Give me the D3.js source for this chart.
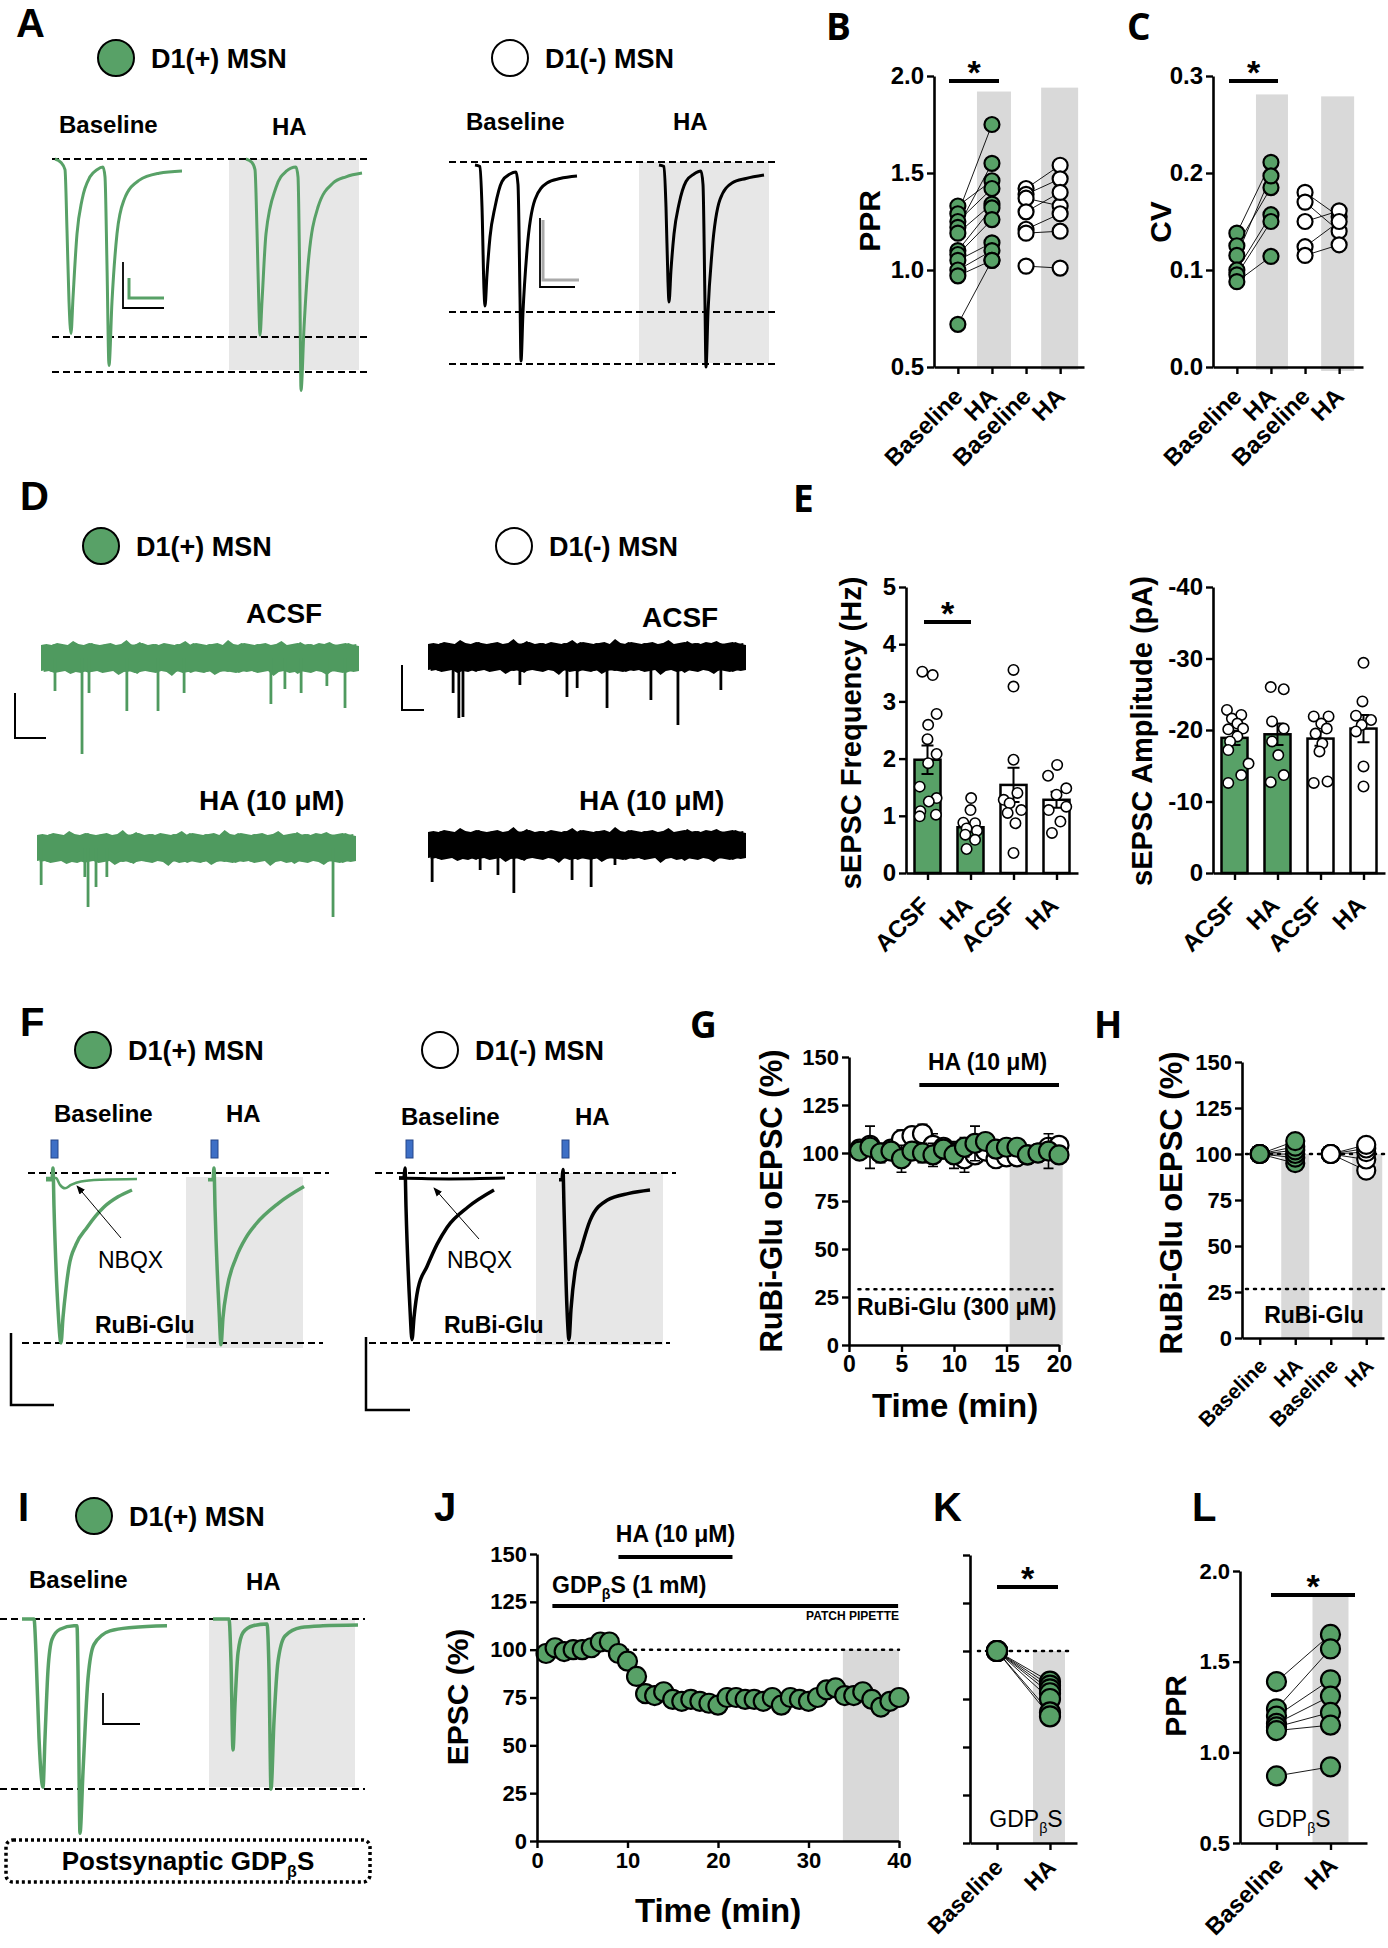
<!DOCTYPE html>
<html>
<head>
<meta charset="utf-8">
<script src="https://cdn.jsdelivr.net/npm/d3@7"></script>
<style>body{margin:0;background:#fff}</style>
</head>
<body>
<script>
// ---------------- data ----------------
// A: paired-pulse traces, [time (ms), current normalised to the first dashed line]
const aD1Base = [[0,0],[6,-0.02],[10,-0.06],[12,-0.4],[14,-0.8],[16,-0.98],[18,-0.78],[22,-0.42],[27,-0.23],[35,-0.1],[42,-0.06],[48,-0.045],[50,-0.1],[52,-0.6],[54,-1.16],[57,-0.8],[62,-0.42],[69,-0.23],[84,-0.12],[104,-0.08],[127,-0.067]];
const aD1HA = [[0,0],[6,-0.02],[9,-0.06],[11,-0.4],[13,-0.85],[14,-0.99],[16,-0.8],[20,-0.42],[30,-0.16],[40,-0.07],[50,-0.045],[52,-0.1],[54,-0.8],[55,-1.3],[58,-0.95],[62,-0.6],[72,-0.27],[87,-0.135],[100,-0.1],[116,-0.079]];
const aD1mBase = [[0,-0.02],[5,-0.03],[7,-0.3],[9,-0.85],[10,-0.96],[12,-0.75],[15,-0.5],[20,-0.3],[27,-0.13],[35,-0.08],[41,-0.067],[43,-0.15],[45,-0.9],[46,-1.327],[48,-1.0],[52,-0.59],[60,-0.25],[72,-0.14],[85,-0.11],[102,-0.093]];
const aD1mHA = [[0,-0.02],[5,-0.03],[7,-0.3],[9,-0.8],[10,-0.933],[12,-0.72],[15,-0.48],[20,-0.28],[27,-0.13],[35,-0.08],[42,-0.06],[44,-0.15],[46,-0.95],[47,-1.367],[49,-1.0],[53,-0.6],[61,-0.25],[73,-0.14],[87,-0.11],[105,-0.087]];

// B: PPR, paired cells
const pprD1Base = [1.33, 1.29, 1.25, 1.22, 1.19, 1.10, 1.08, 1.05, 1.00, 0.97, 0.72];
const pprD1HA = [1.46, 1.75, 1.42, 1.55, 1.34, 1.32, 1.26, 1.14, 1.10, 1.05, 1.05];
const pprD1mBase = [1.42, 1.39, 1.37, 1.30, 1.21, 1.19, 1.02];
const pprD1mHA = [1.54, 1.47, 1.33, 1.40, 1.29, 1.20, 1.01];

// C: CV, paired cells
const cvD1Base = [0.138, 0.125, 0.115, 0.100, 0.095, 0.088];
const cvD1HA = [0.211, 0.185, 0.197, 0.157, 0.150, 0.114];
const cvD1mBase = [0.180, 0.170, 0.150, 0.124, 0.115];
const cvD1mHA = [0.155, 0.140, 0.161, 0.150, 0.126];
const pairCats = ["Baseline", "HA", "Baseline", "HA"];

// D: sEPSC traces, background noise envelope and events [time (s), depth]
const noiseTop = [13,14,13,15,14,13,17,14,13,15,14,13,14,15,13,14,18,13,14,15,13,14,13,15,14,13,14,17,13,15,14,13,14,15,13,18,14,13,15,14,13,14,15,13,14,17,13,14,15,13,14,13,15,14,16,13,14,15,13,14];
const noiseBot = [13,12,14,13,12,13,14,12,13,15,12,13,14,12,13,12,14,13,16,12,13,14,12,13,12,14,13,12,15,13,12,14,13,12,13,14,12,15,13,12,14,13,12,13,14,12,13,12,16,13,14,12,13,12,14,13,12,15,13,12];
const evD1Acsf = [[0.44,33],[1.29,96],[1.51,35],[2.70,53],[3.68,53],[4.50,35],[7.23,46],[7.67,31],[8.18,35],[8.99,28],[9.56,50]];
const evD1mAcsf = [[0.79,36],[0.97,61],[1.10,60],[2.89,28],[4.37,40],[4.69,31],[5.63,51],[7.01,43],[7.86,68],[9.21,33]];
const evD1HA = [[0.13,37],[1.50,29],[1.60,59],[1.85,39],[2.19,29],[9.28,69]];
const evD1mHA = [[0.13,37],[1.64,25],[2.20,30],[2.70,48],[4.53,35],[5.13,42],[5.88,20]];

// E: sEPSC frequency / amplitude, [value, horizontal jitter]
const eCats = ["ACSF", "HA", "ACSF", "HA"];
const freqMean = [1.98, 0.80, 1.54, 1.28];
const freqSem = [0.25, 0.08, 0.30, 0.14];
const freqD1Acsf = [[3.52,-0.4],[3.46,0.4],[2.78,0.7],[2.59,0.05],[2.34,0],[2.08,0.7],[1.92,0.05],[1.51,-0.6],[1.31,0.7],[1.25,0.1],[1.08,-0.55],[1.02,0.65],[0.99,-0.6]];
const freqD1HA = [[1.31,0.05],[1.10,0],[0.88,-0.55],[0.87,0.35],[0.78,-0.3],[0.74,0.5],[0.67,-0.4],[0.58,0.35],[0.42,-0.3]];
const freqD1mAcsf = [[3.55,0],[3.26,0],[1.98,0],[1.40,0.3],[1.28,-0.75],[1.22,-0.3],[1.10,0.6],[1.05,-0.45],[0.87,0.15],[0.35,0]];
const freqD1mHA = [[1.89,0.05],[1.70,-0.65],[1.48,0.75],[1.37,0],[1.16,0.75],[1.10,-0.6],[0.90,0.3],[0.70,-0.35]];
const ampMean = [-18.9, -19.4, -18.8, -20.2];
const ampSem = [1.0, 1.5, 1.0, 1.9];
const ampD1Acsf = [[-22.8,-0.58],[-22.1,0.52],[-21.6,-0.2],[-20.9,0.22],[-20.1,-0.48],[-20.2,0.66],[-19.1,0.22],[-18.4,-0.34],[-17.2,-0.48],[-15.3,1.08],[-13.7,0.52],[-12.6,-0.48]];
const ampD1HA = [[-26.0,-0.52],[-25.7,0.48],[-21.2,-0.42],[-20.2,0.48],[-18.4,-0.42],[-16.5,0.06],[-13.7,0.48],[-12.7,-0.52]];
const ampD1mAcsf = [[-21.9,-0.52],[-21.9,0.62],[-20.9,0.06],[-20.2,0.48],[-19.5,-0.38],[-18.1,0.14],[-17.0,-0.08],[-12.6,-0.52],[-12.8,0.54]];
const ampD1mHA = [[-29.4,0],[-24.0,-0.08],[-22.0,-0.58],[-21.4,0.58],[-20.7,-0.14],[-19.8,-0.58],[-14.9,0],[-12.1,0]];

// F: RuBi-Glu uncaging traces
const fD1Base = [[0,-0.04],[6,-0.04],[7,0.03],[8,-0.2],[12,-0.8],[15,-1.0],[17,-0.85],[20,-0.68],[23,-0.55],[30,-0.42],[41,-0.32],[58,-0.2],[72,-0.14],[86,-0.1]];
const fD1Nbqx = [[0,-0.03],[10,-0.03],[14,-0.07],[19,-0.09],[25,-0.07],[35,-0.05],[55,-0.04],[91,-0.035]];
const fD1HA = [[0,-0.04],[5,-0.04],[6,0.03],[7,-0.2],[11,-0.8],[13,-1.01],[15,-0.85],[19,-0.68],[28,-0.5],[38,-0.38],[48,-0.3],[70,-0.18],[96,-0.08]];
const fD1mBase = [[0,-0.03],[5,-0.03],[6,0.03],[7,-0.2],[11,-0.8],[13,-0.98],[15,-0.85],[19,-0.68],[28,-0.55],[38,-0.42],[48,-0.32],[69,-0.2],[95,-0.1]];
const fD1mNbqx = [[0,-0.03],[50,-0.035],[106,-0.03]];
const fD1mHA = [[0,-0.04],[3,-0.04],[4,0.02],[5,-0.2],[8,-0.8],[10,-0.98],[12,-0.8],[16,-0.58],[22,-0.45],[31,-0.28],[48,-0.16],[70,-0.12],[91,-0.1]];

// G: RuBi-Glu oEPSC time course
const gTime = [1,2,3,4,5,6,7,8,9,10,11,12,13,14,15,16,17,18,19,20];
const gD1 = [101,103,100,101,97,101,100,99,102,99,103,105,106,102,103,103,99,100,101,99];
const gD1Sem = [4,11,5,4,7,4,5,6,5,7,5,9,4,3,3,3,4,4,9,4];
const gD1m = [102,104,100,102,107,109,110,104,103,100,97,99,101,97,98,98,99,100,103,104];
const gD1mSem = [3,4,4,3,5,4,5,6,4,5,7,4,3,3,3,3,4,3,4,3];

// H: RuBi-Glu oEPSC, paired cells
const hD1Base = [100,100,100,100,100,100];
const hD1HA = [95,98,100,102,104,107];
const hD1mBase = [100,100,100,100,100];
const hD1mHA = [91,97,101,103,105];

// I: paired-pulse traces with GDPbS
const iBase = [[0,0],[12,0],[14,-0.2],[17,-0.7],[21,-0.99],[23,-0.7],[26,-0.3],[30,-0.12],[38,-0.06],[52,-0.04],[55,-0.04],[56,-0.3],[58,-1.26],[61,-0.9],[66,-0.35],[72,-0.15],[88,-0.07],[110,-0.05],[145,-0.04]];
const iHA = [[0,0],[16,0],[18,-0.25],[20,-0.77],[22,-0.5],[25,-0.2],[30,-0.08],[40,-0.04],[54,-0.03],[56,-0.3],[58,-1.0],[61,-0.6],[65,-0.25],[72,-0.1],[88,-0.05],[110,-0.04],[145,-0.035]];

// J: EPSC time course with GDPbS
const jTime = [1,2,3,4,5,6,7,8,9,10,11,12,13,14,15,16,17,18,19,20,21,22,23,24,25,26,27,28,29,30,31,32,33,34,35,36,37,38,39,40];
const jEpsc = [98,101,99,100,100,101,104,104,98,94,86,77,76,78,74,73,74,73,72,71,75,75,74,74,73,75,71,75,74,73,75,79,80,76,76,78,74,70,73,75];

// K, L: GDPbS paired cells
const kBase = [100,100,100,100,100,100,100];
const kHA = [84,82,80,78,75,68,66];
const lBase = [1.39,1.24,1.20,1.16,1.14,1.12,0.87];
const lHA = [1.65,1.57,1.40,1.31,1.22,1.15,0.92];

// ---------------- drawing ----------------
const GREEN = "#58a167";
const TRACE_GREEN = "#4f9a5f";
const SHADE = "#d9d9d9";
const LIGHT = "#e7e7e7";
const FB = "'Liberation Sans', Arial, Helvetica, sans-serif";
const FL = "'Open Sans', 'Liberation Sans', sans-serif";

const svg = d3.select("body").append("svg")
  .attr("width", 1388).attr("height", 1948)
  .attr("font-family", FB);
svg.append("rect").attr("width", 1388).attr("height", 1948).attr("fill", "#fff");

const defs = svg.append("defs");
defs.append("marker").attr("id", "arr").attr("viewBox", "0 0 10 10")
  .attr("refX", 9).attr("refY", 5).attr("markerWidth", 9).attr("markerHeight", 9)
  .attr("orient", "auto")
  .append("path").attr("d", "M0,1 L10,5 L0,9 Z").attr("fill", "#000");

function text(x, y, s, size, o = {}) {
  const t = svg.append("text")
    .attr("x", x).attr("y", y)
    .attr("font-family", o.family || FB)
    .attr("font-size", size)
    .attr("font-weight", o.weight || "bold")
    .attr("text-anchor", o.anchor || "start")
    .attr("fill", "#000");
  if (o.rotate) t.attr("transform", `rotate(${o.rotate},${x},${y})`);
  if (o.sub) {
    t.append("tspan").text(o.sub[0]);
    t.append("tspan").attr("font-size", size * 0.62).attr("dy", size * 0.25).text(o.sub[1]);
    t.append("tspan").attr("dy", -size * 0.25).text(o.sub[2]);
  } else t.text(s);
  return t;
}

function hline(x1, x2, y, o = {}) {
  svg.append("line").attr("x1", x1).attr("x2", x2).attr("y1", y).attr("y2", y)
    .attr("stroke", o.color || "#000").attr("stroke-width", o.w || 2)
    .attr("stroke-dasharray", o.dash || null)
    .attr("stroke-linecap", o.cap || "butt");
}

function box(x1, x2, y1, y2, fill) {
  svg.append("rect").attr("x", x1).attr("y", y1)
    .attr("width", x2 - x1).attr("height", y2 - y1).attr("fill", fill);
}

function scaleBar(x, yTop, yBot, xEnd, color, w = 2) {
  svg.append("path").attr("d", `M${x},${yTop}V${yBot}H${xEnd}`)
    .attr("fill", "none").attr("stroke", color).attr("stroke-width", w);
}

function cellKey(cx, cy, fill, s) {
  svg.append("circle").attr("cx", cx).attr("cy", cy).attr("r", 18)
    .attr("fill", fill).attr("stroke", "#000").attr("stroke-width", 2);
  text(cx + 35, cy + 10, s, 27);
}

function trace(pts, x0, yZero, yOne, color, w = 3) {
  const xs = d3.scaleLinear().domain([0, 100]).range([x0, x0 + 100]);
  const ys = d3.scaleLinear().domain([0, -1]).range([yZero, yOne]);
  svg.append("path").datum(pts)
    .attr("d", d3.line().x(d => xs(d[0])).y(d => ys(d[1])).curve(d3.curveMonotoneX))
    .attr("fill", "none").attr("stroke", color).attr("stroke-width", w)
    .attr("stroke-linejoin", "round");
}

// noise band drawn twice (second pass offset by half a sample, edges swapped) for a denser texture
function noisyTrace(x0, x1, cy, events, color) {
  const xs = d3.scaleLinear().domain([0, 10]).range([x0, x1]);
  const ys = d3.scaleLinear().domain([0, -100]).range([cy, cy + 100]);
  const n = noiseTop.length;
  const step = 10 / (n - 0.5);
  const passA = noiseTop.map((v, i) => ({ t: i * step, hi: v, lo: -noiseBot[i] }));
  const passB = noiseBot.map((v, i) => ({ t: (i + 0.5) * step, hi: v, lo: -noiseTop[n - 1 - i] }));
  const area = d3.area().x(d => xs(d.t)).y0(d => ys(d.lo)).y1(d => ys(d.hi));
  [passA, passB].forEach(p => svg.append("path").datum(p).attr("d", area).attr("fill", color));
  svg.append("g").selectAll("line").data(events).join("line")
    .attr("x1", d => xs(d[0])).attr("x2", d => xs(d[0]))
    .attr("y1", cy).attr("y2", d => ys(-d[1]))
    .attr("stroke", color).attr("stroke-width", 2.8);
}

function styleAxis(g, size) {
  g.select(".domain").attr("stroke-width", 2.6).attr("stroke", "#000");
  g.selectAll(".tick line").attr("stroke-width", 2.4).attr("stroke", "#000");
  g.selectAll("text").attr("font-family", FB).attr("font-size", size)
    .attr("font-weight", "bold").attr("fill", "#000");
}

function leftAxis(x, scale, ticks, fmt, size = 21) {
  const g = svg.append("g").attr("transform", `translate(${x},0)`)
    .call(d3.axisLeft(scale).tickValues(ticks).tickFormat(fmt)
      .tickSize(7).tickSizeOuter(0).tickPadding(3));
  styleAxis(g, size);
  return g;
}

function catAxis(y, scale, labels, size, dx, dy) {
  const g = svg.append("g").attr("transform", `translate(0,${y})`)
    .call(d3.axisBottom(scale).tickFormat(i => labels[i]).tickSize(7).tickSizeOuter(0));
  styleAxis(g, size);
  g.selectAll("text").attr("x", 0).attr("y", 0).attr("dy", "0.35em")
    .attr("text-anchor", "end")
    .attr("transform", `translate(${dx},${dy}) rotate(-45)`);
  return g;
}

function numAxis(y, scale, ticks, size = 21) {
  const g = svg.append("g").attr("transform", `translate(0,${y})`)
    .call(d3.axisBottom(scale).tickValues(ticks).tickSize(7).tickSizeOuter(0).tickPadding(4));
  styleAxis(g, size);
  return g;
}

function paired(xs, ys, i0, i1, base, ha, fill, r) {
  const g = svg.append("g");
  g.selectAll("line").data(base).join("line")
    .attr("x1", xs(i0)).attr("x2", xs(i1))
    .attr("y1", d => ys(d)).attr("y2", (d, i) => ys(ha[i]))
    .attr("stroke", "#000").attr("stroke-width", 0.9);
  [[base, i0], [ha, i1]].forEach(([vals, idx]) => {
    g.append("g").selectAll("circle").data(vals).join("circle")
      .attr("cx", xs(idx)).attr("cy", d => ys(d)).attr("r", r)
      .attr("fill", fill).attr("stroke", "#000").attr("stroke-width", 2.2);
  });
}

function sigBar(x1, x2, y) {
  hline(x1, x2, y, { w: 4 });
  text((x1 + x2) / 2, y + 3, "*", 34, { anchor: "middle" });
}

function letter(s, x, y, fam = FB, size = 40) {
  text(x, y, s, size, { family: fam, weight: 700 });
}

// ---------------- A ----------------
letter("A", 16, 37);
cellKey(116, 58, GREEN, "D1(+) MSN");
cellKey(510, 58, "#fff", "D1(-) MSN");
text(59, 133, "Baseline", 24);
text(272, 135, "HA", 24);
text(466, 130, "Baseline", 24);
text(673, 130, "HA", 24);
box(229, 359, 159, 370, LIGHT);
box(639, 769, 162, 363, LIGHT);
[159, 337, 372].forEach(y => hline(52, 368, y, { dash: "7,4", w: 2 }));
[162, 312, 364].forEach(y => hline(449, 776, y, { dash: "7,4", w: 2 }));
trace(aD1Base, 55, 159, 337, GREEN, 3);
trace(aD1HA, 246, 159, 337, GREEN, 3);
trace(aD1mBase, 475, 162, 312, "#000", 3);
trace(aD1mHA, 659, 162, 312, "#000", 3);
scaleBar(123, 262, 308, 164, "#000", 1.8);
scaleBar(129, 278, 298, 164, GREEN, 3);
scaleBar(543, 220, 280, 579, "#aaa", 3);
scaleBar(540, 218, 287, 575, "#000", 1.8);

// ---------------- B ----------------
letter("B", 826, 40, FL, 37);
const yB = d3.scaleLinear().domain([0.5, 2.0]).range([367, 76]);
const xB = d3.scalePoint().domain([0, 1, 2, 3]).range([934, 1084]).padding(0.7);
box(xB(1) - 15, xB(1) + 19, yB(1.92), yB(0.5), SHADE);
box(xB(3) - 19, xB(3) + 18, yB(1.94), yB(0.5) + 3, SHADE);
paired(xB, yB, 0, 1, pprD1Base, pprD1HA, GREEN, 7.5);
paired(xB, yB, 2, 3, pprD1mBase, pprD1mHA, "#fff", 7.5);
leftAxis(934, yB, [0.5, 1.0, 1.5, 2.0], d3.format(".1f"), 24);
catAxis(367, xB, pairCats, 24, 0, 25);
sigBar(949, 999, 81);
text(880, 221, "PPR", 30, { anchor: "middle", rotate: -90 });

// ---------------- C ----------------
letter("C", 1127, 40, FL, 37);
const yC = d3.scaleLinear().domain([0, 0.3]).range([367, 76]);
const xC = d3.scalePoint().domain([0, 1, 2, 3]).range([1213, 1363]).padding(0.7);
box(xC(1) - 15, xC(1) + 17, yC(0.281), yC(0) + 3, SHADE);
box(xC(3) - 18, xC(3) + 15, yC(0.279), yC(0) + 4, SHADE);
paired(xC, yC, 0, 1, cvD1Base, cvD1HA, GREEN, 7.5);
paired(xC, yC, 2, 3, cvD1mBase, cvD1mHA, "#fff", 7.5);
leftAxis(1213, yC, [0, 0.1, 0.2, 0.3], d3.format(".1f"), 24);
catAxis(367, xC, pairCats, 24, 0, 25);
sigBar(1229, 1278, 81);
text(1171, 222, "CV", 30, { anchor: "middle", rotate: -90 });

// ---------------- D ----------------
letter("D", 20, 510);
cellKey(101, 546, GREEN, "D1(+) MSN");
cellKey(514, 546, "#fff", "D1(-) MSN");
text(246, 623, "ACSF", 28);
text(642, 627, "ACSF", 28);
text(199, 810, "HA (10 μM)", 28);
text(579, 810, "HA (10 μM)", 28);
noisyTrace(41, 359, 658, evD1Acsf, TRACE_GREEN);
noisyTrace(428, 746, 657, evD1mAcsf, "#000");
noisyTrace(37, 356, 848, evD1HA, TRACE_GREEN);
noisyTrace(428, 746, 845, evD1mHA, "#000");
scaleBar(15, 693, 738, 46, "#000", 2);
scaleBar(402, 665, 710, 424, "#000", 2);

// ---------------- E ----------------
letter("E", 793, 512, FL, 37);
function barPanel(xs, ys, means, sems, groups, fills) {
  const bw = 26;
  const g = svg.append("g");
  g.selectAll("rect").data(means).join("rect")
    .attr("x", (d, i) => xs(i) - bw / 2).attr("width", bw)
    .attr("y", d => Math.min(ys(d), ys(0))).attr("height", d => Math.abs(ys(0) - ys(d)))
    .attr("fill", (d, i) => fills[i]).attr("stroke", "#000").attr("stroke-width", 2.5);
  means.forEach((m, i) => {
    const s = Math.sign(m) * sems[i];
    g.append("path")
      .attr("d", `M${xs(i)},${ys(m - s)}V${ys(m + s)}M${xs(i) - 6},${ys(m + s)}H${xs(i) + 6}M${xs(i) - 6},${ys(m - s)}H${xs(i) + 6}`)
      .attr("stroke", "#000").attr("stroke-width", 2).attr("fill", "none");
  });
  groups.forEach((pts, i) => {
    g.append("g").selectAll("circle").data(pts).join("circle")
      .attr("cx", d => xs(i) + d[1] * bw / 2).attr("cy", d => ys(d[0])).attr("r", 5.2)
      .attr("fill", "#fff").attr("stroke", "#000").attr("stroke-width", 1.6);
  });
}
const yF = d3.scaleLinear().domain([0, 5]).range([873, 587]);
const xF = d3.scalePoint().domain([0, 1, 2, 3]).range([906, 1078]).padding(0.5);
barPanel(xF, yF, freqMean, freqSem, [freqD1Acsf, freqD1HA, freqD1mAcsf, freqD1mHA], [GREEN, GREEN, "#fff", "#fff"]);
leftAxis(906, yF, [0, 1, 2, 3, 4, 5], d => d, 24);
catAxis(873, xF, eCats, 24, -3, 28);
sigBar(924, 971, 622);
text(861, 733, "sEPSC Frequency (Hz)", 29, { anchor: "middle", rotate: -90 });

const yA = d3.scaleLinear().domain([0, -40]).range([873, 587]);
const xA = d3.scalePoint().domain([0, 1, 2, 3]).range([1213, 1385]).padding(0.5);
barPanel(xA, yA, ampMean, ampSem, [ampD1Acsf, ampD1HA, ampD1mAcsf, ampD1mHA], [GREEN, GREEN, "#fff", "#fff"]);
leftAxis(1213, yA, [0, -10, -20, -30, -40], d => String(d), 24);
catAxis(873, xA, eCats, 24, -3, 28);
text(1152, 731, "sEPSC Amplitude (pA)", 29, { anchor: "middle", rotate: -90 });

// ---------------- F ----------------
letter("F", 20, 1036);
cellKey(93, 1050, GREEN, "D1(+) MSN");
cellKey(440, 1050, "#fff", "D1(-) MSN");
text(54, 1122, "Baseline", 24);
text(226, 1122, "HA", 24);
text(401, 1125, "Baseline", 24);
text(575, 1125, "HA", 24);
[51, 211, 406, 562].forEach(x => {
  svg.append("rect").attr("x", x).attr("y", 1140).attr("width", 7).attr("height", 18)
    .attr("fill", "#3d6fc6").attr("stroke", "#24468a").attr("stroke-width", 1);
});
box(186, 303, 1177, 1348, LIGHT);
box(536, 663, 1173, 1345, LIGHT);
hline(28, 329, 1173, { dash: "7,4" });
hline(22, 323, 1343, { dash: "7,4" });
hline(375, 676, 1173, { dash: "7,4" });
hline(369, 670, 1343, { dash: "7,4" });
trace(fD1Nbqx, 46, 1173, 1343, GREEN, 2.5);
trace(fD1Base, 46, 1173, 1343, GREEN, 3.5);
trace(fD1HA, 208, 1173, 1343, GREEN, 3.5);
trace(fD1mNbqx, 399, 1173, 1343, "#000", 3);
trace(fD1mBase, 399, 1173, 1343, "#000", 3.5);
trace(fD1mHA, 559, 1173, 1343, "#000", 3.5);
svg.append("line").attr("x1", 121).attr("y1", 1238).attr("x2", 77).attr("y2", 1186)
  .attr("stroke", "#000").attr("stroke-width", 1).attr("marker-end", "url(#arr)");
svg.append("line").attr("x1", 479).attr("y1", 1239).attr("x2", 434).attr("y2", 1188)
  .attr("stroke", "#000").attr("stroke-width", 1).attr("marker-end", "url(#arr)");
text(98, 1268, "NBQX", 23, { weight: "normal" });
text(447, 1268, "NBQX", 23, { weight: "normal" });
text(95, 1333, "RuBi-Glu", 23);
text(444, 1333, "RuBi-Glu", 23);
scaleBar(11, 1333, 1405, 54, "#000", 2.5);
scaleBar(366, 1337, 1410, 410, "#000", 2.5);

// ---------------- G ----------------
letter("G", 690, 1038, FL, 37);
const yG = d3.scaleLinear().domain([0, 150]).range([1345, 1057]);
const xG = d3.scaleLinear().domain([0, 20]).range([849, 1059]);
box(xG(15.3), xG(20.35), yG(95), yG(0), SHADE);
hline(xG(0.9), xG(19.9), yG(29), { dash: "2,6", w: 2.5, cap: "round" });
text(857, 1315, "RuBi-Glu (300 μM)", 23);
hline(xG(6.7), xG(20), 1085, { w: 4 });
text(xG(13.2), 1070, "HA (10 μM)", 23, { anchor: "middle" });
function timeSeries(xs, ys, t, v, sem, fill, r) {
  const g = svg.append("g");
  if (sem) {
    g.selectAll("path").data(v).join("path")
      .attr("d", (d, i) => `M${xs(t[i])},${ys(d - sem[i])}V${ys(d + sem[i])}M${xs(t[i]) - 5},${ys(d + sem[i])}H${xs(t[i]) + 5}M${xs(t[i]) - 5},${ys(d - sem[i])}H${xs(t[i]) + 5}`)
      .attr("stroke", "#000").attr("stroke-width", 1.6).attr("fill", "none");
  }
  g.append("g").selectAll("circle").data(v).join("circle")
    .attr("cx", (d, i) => xs(t[i])).attr("cy", d => ys(d)).attr("r", r)
    .attr("fill", fill).attr("stroke", "#000").attr("stroke-width", 2.2);
}
timeSeries(xG, yG, gTime, gD1m, gD1mSem, "#fff", 9.5);
timeSeries(xG, yG, gTime, gD1, gD1Sem, GREEN, 9.5);
leftAxis(849, yG, [0, 25, 50, 75, 100, 125, 150], d => d, 22);
numAxis(1345, xG, [0, 5, 10, 15, 20], 23);
text(782, 1201, "RuBi-Glu oEPSC (%)", 31, { anchor: "middle", rotate: -90 });
text(955, 1417, "Time (min)", 33, { anchor: "middle" });

// ---------------- H ----------------
letter("H", 1094, 1038, FL, 37);
const yH = d3.scaleLinear().domain([0, 150]).range([1338, 1062]);
const xH = d3.scalePoint().domain([0, 1, 2, 3]).range([1242, 1384]).padding(0.5);
box(xH(1) - 14, xH(1) + 14, yH(100), yH(0), SHADE);
box(xH(3) - 14, xH(3) + 16, yH(100), yH(0), SHADE);
hline(1246, 1384, yH(26.6), { dash: "2,6", w: 2.5, cap: "round" });
hline(1246, 1384, yH(100), { dash: "2,6", w: 2.5, cap: "round" });
paired(xH, yH, 0, 1, hD1Base, hD1HA, GREEN, 9);
paired(xH, yH, 2, 3, hD1mBase, hD1mHA, "#fff", 9);
leftAxis(1242, yH, [0, 25, 50, 75, 100, 125, 150], d => d, 22);
catAxis(1338, xH, pairCats, 21, 3, 24);
text(1314, 1323, "RuBi-Glu", 23, { anchor: "middle" });
text(1182, 1203, "RuBi-Glu oEPSC (%)", 31, { anchor: "middle", rotate: -90 });

// ---------------- I ----------------
letter("I", 18, 1521);
cellKey(94, 1516, GREEN, "D1(+) MSN");
text(29, 1588, "Baseline", 24);
text(246, 1590, "HA", 24);
box(209, 355, 1619, 1787, LIGHT);
hline(0, 365, 1619, { dash: "7,4" });
hline(0, 365, 1789, { dash: "7,4" });
trace(iBase, 22, 1619, 1789, GREEN, 3.5);
trace(iHA, 213, 1619, 1789, GREEN, 3.5);
scaleBar(103, 1693, 1724, 140, "#000", 1.8);
svg.append("rect").attr("x", 6).attr("y", 1840).attr("width", 364).attr("height", 42)
  .attr("rx", 7).attr("fill", "none").attr("stroke", "#000")
  .attr("stroke-width", 3.5).attr("stroke-dasharray", "3,3");
text(188, 1870, null, 26, { anchor: "middle", sub: ["Postsynaptic GDP", "β", "S"] });

// ---------------- J ----------------
letter("J", 434, 1521);
const yJ = d3.scaleLinear().domain([0, 150]).range([1841, 1554]);
const xJ = d3.scaleLinear().domain([0, 40]).range([537, 899]);
box(xJ(33.8), xJ(40), yJ(100), yJ(0), SHADE);
hline(xJ(1), xJ(40), yJ(100), { dash: "2,6", w: 2.5, cap: "round" });
hline(xJ(9), xJ(21.6), 1557, { w: 4 });
text(xJ(15.3), 1542, "HA (10 μM)", 23, { anchor: "middle" });
hline(xJ(1.7), xJ(39.9), 1606, { w: 4 });
text(552, 1593, null, 23, { sub: ["GDP", "β", "S (1 mM)"] });
text(899, 1620, "PATCH PIPETTE", 12, { anchor: "end" });
timeSeries(xJ, yJ, jTime, jEpsc, null, GREEN, 9.5);
leftAxis(537, yJ, [0, 25, 50, 75, 100, 125, 150], d => d, 22);
numAxis(1841, xJ, [0, 10, 20, 30, 40], 22);
text(468, 1697, "EPSC (%)", 30, { anchor: "middle", rotate: -90 });
text(718, 1922, "Time (min)", 33, { anchor: "middle" });

// ---------------- K ----------------
letter("K", 933, 1521);
const yK = d3.scaleLinear().domain([0, 150]).range([1843, 1555]);
const xK = d3.scalePoint().domain([0, 1]).range([970, 1077]).padding(0.51);
box(xK(1) - 17, xK(1) + 15, yK(100), yK(0), SHADE);
hline(978, 1072, yK(100), { dash: "2,6", w: 2.5, cap: "round" });
paired(xK, yK, 0, 1, kBase, kHA, GREEN, 10);
leftAxis(970, yK, [0, 25, 50, 75, 100, 125, 150], "", 21);
catAxis(1843, xK, ["Baseline", "HA"], 23, 1, 20);
sigBar(997, 1058, 1587);
text(1026, 1827, null, 23, { anchor: "middle", weight: "normal", sub: ["GDP", "β", "S"] });

// ---------------- L ----------------
letter("L", 1192, 1521);
const yL = d3.scaleLinear().domain([0.5, 2.0]).range([1843, 1571]);
const xL = d3.scalePoint().domain([0, 1]).range([1240, 1367]).padding(0.676);
box(xL(1) - 18, xL(1) + 18, yL(1.87), yL(0.5), SHADE);
paired(xL, yL, 0, 1, lBase, lHA, GREEN, 9.5);
leftAxis(1240, yL, [0.5, 1.0, 1.5, 2.0], d3.format(".1f"), 22);
catAxis(1843, xL, ["Baseline", "HA"], 24, 2, 18);
sigBar(1271, 1355, 1595);
text(1186, 1706, "PPR", 30, { anchor: "middle", rotate: -90 });
text(1294, 1827, null, 23, { anchor: "middle", weight: "normal", sub: ["GDP", "β", "S"] });
</script>
</body>
</html>
